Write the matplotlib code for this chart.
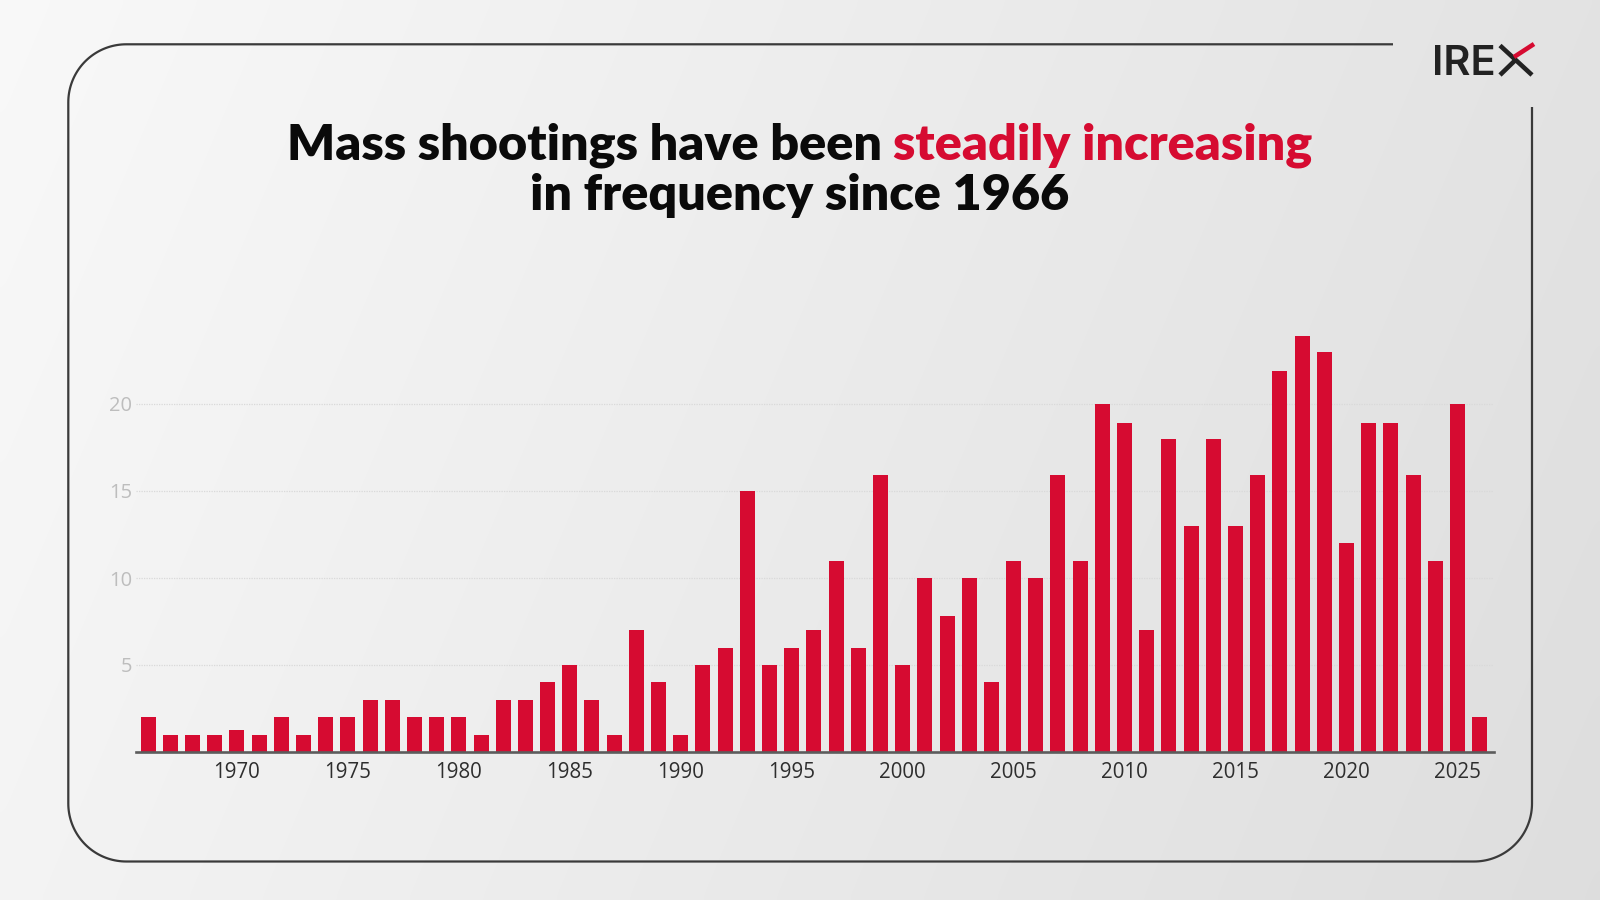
import numpy as np
import matplotlib
matplotlib.use("Agg")
import matplotlib.pyplot as plt

# ---------------- data ----------------
years = list(range(1966, 2027))
shootings = [2, 1, 1, 1, 1.25, 1, 2, 1, 2, 2,
             3, 3, 2, 2, 2, 1, 3, 3, 4, 5,
             3, 1, 7, 4, 1, 5, 6, 15, 5, 6,
             7, 11, 6, 15.9, 5, 10, 7.8, 10, 4, 11,
             10, 15.9, 11, 20, 18.9, 7, 18, 13, 18, 13,
             15.9, 21.9, 23.9, 23, 12, 18.9, 18.9, 15.9, 11, 20,
             2]
xtick_years = [1970, 1975, 1980, 1985, 1990, 1995, 2000, 2005, 2010, 2015, 2020, 2025]
ytick_vals = [5, 10, 15, 20]
title_black1 = "Mass shootings have been"
title_red1 = "steadily increasing"
title_line2 = "in frequency since 1966"

RED = "#D60B31"
W, H = 1600, 900

fig = plt.figure(figsize=(16, 9), dpi=100)

# ---------------- background / decorations ----------------
bg = fig.add_axes([0, 0, 1, 1], zorder=0)
bg.set_xlim(0, W)
bg.set_ylim(H, 0)
bg.axis("off")
gx = np.linspace(0, 1, 200)[None, :]
gy = np.linspace(0, 1, 120)[:, None]
shade = 0.975 - 0.085 * gx - 0.02 * gy
bg.imshow(np.dstack([shade, shade, shade]), extent=[0, W, H, 0], aspect="auto",
          interpolation="bicubic", zorder=0)

# rounded frame with open top-right corner
L, T, R, B, r = 68.3, 44.3, 1532, 861.5, 58
pts = [(1393, T), (L + r, T)]
th = np.radians(np.linspace(90, 180, 40))
pts += list(zip(L + r + r * np.cos(th), T + r - r * np.sin(th)))
pts += [(L, B - r)]
th = np.radians(np.linspace(180, 270, 40))
pts += list(zip(L + r + r * np.cos(th), B - r - r * np.sin(th)))
pts += [(R - r, B)]
th = np.radians(np.linspace(270, 360, 40))
pts += list(zip(R - r + r * np.cos(th), B - r - r * np.sin(th)))
pts += [(R, 107)]
px, py = zip(*pts)
bg.plot(px, py, color="#3a3a3a", lw=1.6, solid_capstyle="butt", zorder=2)

# logo
fig.canvas.draw()
renderer = fig.canvas.get_renderer()
logo = bg.text(1496, 75, "IRE", fontsize=30, fontfamily="Inter", fontweight="semibold",
               color="#222222", ha="right", va="baseline", zorder=3)
bg.plot([1500, 1532], [45.5, 75], color="#222222", lw=3.3, solid_capstyle="butt", zorder=3)
bg.plot([1500, 1516], [75, 59.5], color="#222222", lw=3.3, solid_capstyle="butt", zorder=3)
bg.plot([1514, 1534], [57, 44], color=RED, lw=3.3, solid_capstyle="butt", zorder=3)

# ---------------- title ----------------
tfam = ["Lato", "DejaVu Sans"]
probe = bg.text(0, 0, title_black1 + " " + title_red1, fontsize=30, fontfamily=tfam,
                fontweight="heavy")
w30 = probe.get_window_extent(renderer).width
probe.remove()
fs = 30 * 1025 / w30

full = bg.text(0, 0, title_black1 + " " + title_red1, fontsize=fs, fontfamily=tfam,
               fontweight="heavy")
wfull = full.get_window_extent(renderer).width
full.remove()
x0 = 799.5 - wfull / 2
bg.text(x0, 159.3, title_black1, fontsize=fs, fontfamily=tfam, fontweight="heavy",
        color="#0a0a0a", ha="left", va="baseline", zorder=3)
bg.text(x0 + wfull, 159.3, title_red1, fontsize=fs, fontfamily=tfam, fontweight="heavy",
        color=RED, ha="right", va="baseline", zorder=3)
bg.text(799.5, 210, title_line2, fontsize=fs, fontfamily=tfam, fontweight="heavy",
        color="#0a0a0a", ha="center", va="baseline", zorder=3)

# ---------------- chart ----------------
ax_l, ax_r, ax_b, ax_t = 136, 1494, 752, 317
ax = fig.add_axes([ax_l / W, (H - ax_b) / H, (ax_r - ax_l) / W, (ax_b - ax_t) / H], zorder=1)
ax.set_facecolor("none")
ax.bar(years, shootings, width=0.676, color=RED, zorder=3)
ax.set_xlim(1965.45, 2026.65)
ax.set_ylim(0, 25)

ax.set_yticks(ytick_vals)
ax.set_yticklabels([str(v) for v in ytick_vals])
ax.set_xticks(xtick_years)
ax.set_xticklabels([str(y) for y in xtick_years])
ax.tick_params(axis="y", length=0, pad=3, labelsize=14.5, labelcolor="#bdbdbd")
ax.tick_params(axis="x", length=0, pad=7.5, labelsize=14.8, labelcolor="#2e2e2e")
for lab in ax.get_xticklabels() + ax.get_yticklabels():
    lab.set_fontfamily("Open Sans")

ax.grid(axis="y", color="#d9d9d9", lw=0.9, linestyle=(0, (1, 1)), zorder=0)
ax.grid(axis="x", visible=False)
for s in ["top", "right", "left"]:
    ax.spines[s].set_visible(False)
ax.spines["bottom"].set_color("#5c5c5c")
ax.spines["bottom"].set_linewidth(1.9)
ax.spines["bottom"].set_zorder(4)

fig.savefig("out.png", dpi=100)
